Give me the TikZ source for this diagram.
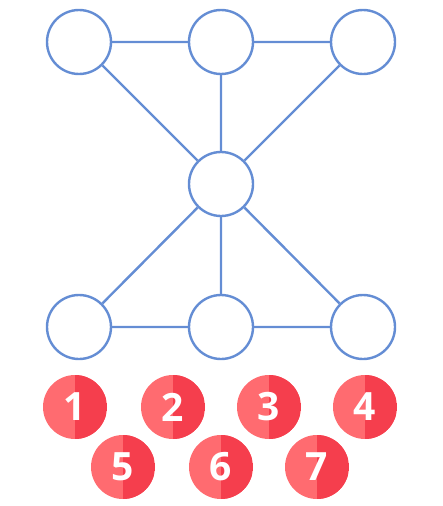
\documentclass[tikz,border=0pt]{standalone}
\usepackage{fontspec}
\setmainfont{Open Sans}
\definecolor{edgeblue}{RGB}{100,141,212}
\definecolor{redlight}{RGB}{255,107,112}
\definecolor{reddark}{RGB}{245,62,77}
\begin{document}
\begin{tikzpicture}[x=1pt,y=-1pt,
  vtx/.style={circle,draw=edgeblue,line width=2.4pt,fill=white,minimum size=64pt,inner sep=0pt},
  edge/.style={draw=edgeblue,line width=2.4pt},
  badge/.style={circle,fill=redlight,minimum size=64pt,inner sep=0pt,text=white,
    font=\fontsize{39}{39}\selectfont\bfseries,
    path picture={\fill[reddark] (path picture bounding box.north) rectangle (path picture bounding box.south east);}}]
\useasboundingbox (0,0) rectangle (442,506);
\node[vtx] (a) at (79,42) {};
\node[vtx] (b) at (221,42) {};
\node[vtx] (c) at (363,42) {};
\node[vtx] (m) at (221,184) {};
\node[vtx] (d) at (79,327) {};
\node[vtx] (e) at (221,327) {};
\node[vtx] (f) at (363,327) {};
\path[edge] (a) -- (b) (b) -- (c) (a) -- (m) (b) -- (m) (c) -- (m)
  (m) -- (d) (m) -- (e) (m) -- (f) (d) -- (e) (e) -- (f);
\node[badge] (n1) at (75,407) {1};
\node[badge] (n2) at (173,407) {2};
\node[badge] (n3) at (269,407) {3};
\node[badge] (n4) at (365,407) {4};
\node[badge] (n5) at (123,467) {5};
\node[badge] (n6) at (221,467) {6};
\node[badge] (n7) at (317,467) {7};
\end{tikzpicture}
\end{document}
